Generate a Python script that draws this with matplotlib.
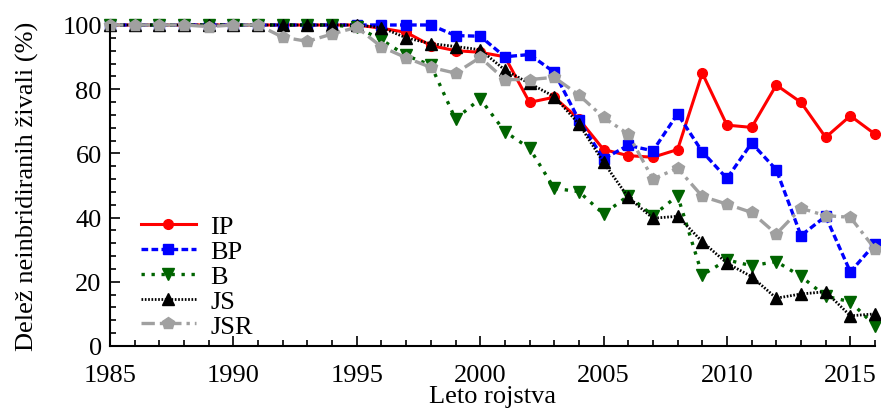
import numpy as np
import matplotlib
matplotlib.use("Agg")
import matplotlib.pyplot as plt
from matplotlib.ticker import MultipleLocator

plt.rcParams['font.family'] = ['Liberation Serif', 'DejaVu Serif']
plt.rcParams['font.size'] = 19

years = np.arange(1985, 2017)

ip = [100, 100, 100, 100, 100, 100, 100, 100, 100, 100, 100,
      99, 97.7, 93.6, 92.0, 91.5, 90.1, 75.9, 77.5, 70.7, 61.2,
      59.3, 58.8, 61.2, 85.0, 68.8, 68.1, 81.3, 75.9, 65.0, 71.7, 66.0]
bp = [100, 100, 100, 100, 100, 100, 100, 100, 100, 100, 100,
      100, 100, 100, 96.7, 96.5, 90.1, 90.8, 85.3, 70.4, 58.3,
      62.5, 60.8, 72.3, 60.5, 52.2, 63.2, 54.9, 34.4, 40.4, 23.1, 31.8]
b = [100, 100, 100, 100, 100, 100, 100, 100, 100, 100, 99.3,
     95.4, 90.5, 87.5, 70.7, 77.0, 66.8, 61.6, 49.1, 48.1, 41.1,
     46.8, 40.6, 46.8, 22.1, 26.8, 25.0, 26.3, 21.7, 15.5, 13.8, 6.3]
js = [100, 100, 100, 100, 100, 100, 100, 100, 100, 100, 100,
      99.2, 96.0, 94.2, 93.3, 92.3, 86.0, 81.8, 77.7, 69.2, 57.2,
      46.3, 39.8, 40.4, 32.5, 25.8, 21.6, 14.9, 16.2, 16.9, 9.4, 10.0]
jsr = [100, 100, 100, 100, 99.5, 100, 100, 96.2, 94.9, 97.2, 99.3,
       93.2, 89.8, 86.8, 85.0, 89.9, 83.0, 83.0, 83.7, 78.2, 71.2,
       66.0, 52.0, 55.4, 46.6, 44.2, 41.6, 34.9, 42.9, 40.6, 40.1, 30.2]

labels = ["IP", "BP", "B", "JS", "JSR"]

fig = plt.figure(figsize=(8.81, 4.10), dpi=100)
ax = fig.add_axes([0.1249, 0.1537, 0.8683, 0.7829])

ax.plot(years, ip, color="red", linestyle="-", linewidth=2.2,
        marker="o", markersize=7, label=labels[0], clip_on=False)
ax.plot(years, bp, color="blue", linestyle=(0, (2.0, 1.0)), linewidth=2.4,
        marker="s", markersize=7, label=labels[1], clip_on=False)
ax.plot(years, b, color="#006400", linestyle=(0, (1.0, 2.0)), linewidth=2.4,
        marker="v", markersize=8, label=labels[2], clip_on=False)
ax.plot(years, js, color="black", linestyle=(0, (0.6, 0.6)), linewidth=2.0,
        marker="^", markersize=8, label=labels[3], clip_on=False)
ax.plot(years, jsr, color="#a0a0a0", linestyle=(0, (4.0, 1.5, 1.0, 1.5)), linewidth=2.4,
        marker="p", markersize=9, label=labels[4], clip_on=False)

ax.set_xlim(1985, 2016)
ax.set_ylim(0, 100)
ax.xaxis.set_major_locator(MultipleLocator(5))
ax.xaxis.set_minor_locator(MultipleLocator(1))
ax.yaxis.set_major_locator(MultipleLocator(20))
ax.yaxis.set_minor_locator(MultipleLocator(4))
ax.tick_params(which="both", direction="in", width=1.2)
ax.tick_params(which="major", length=7)
ax.tick_params(which="minor", length=4)
ax.tick_params(axis="x", which="major", pad=13)
ax.tick_params(axis="y", which="major", pad=6)

for side in ("top", "right"):
    ax.spines[side].set_visible(False)
for side in ("left", "bottom"):
    ax.spines[side].set_linewidth(1.5)

ax.set_xlabel("Leto rojstva", labelpad=-1)
ax.set_ylabel("Delež neinbridiranih živali (%)", labelpad=17)

ax.legend(loc="upper left", bbox_to_anchor=(0.04, 0.408), frameon=False,
          borderpad=0, borderaxespad=0, handlelength=2.1, handletextpad=0.55,
          labelspacing=0.05, fontsize=19)

fig.savefig("out.png", dpi=100)
